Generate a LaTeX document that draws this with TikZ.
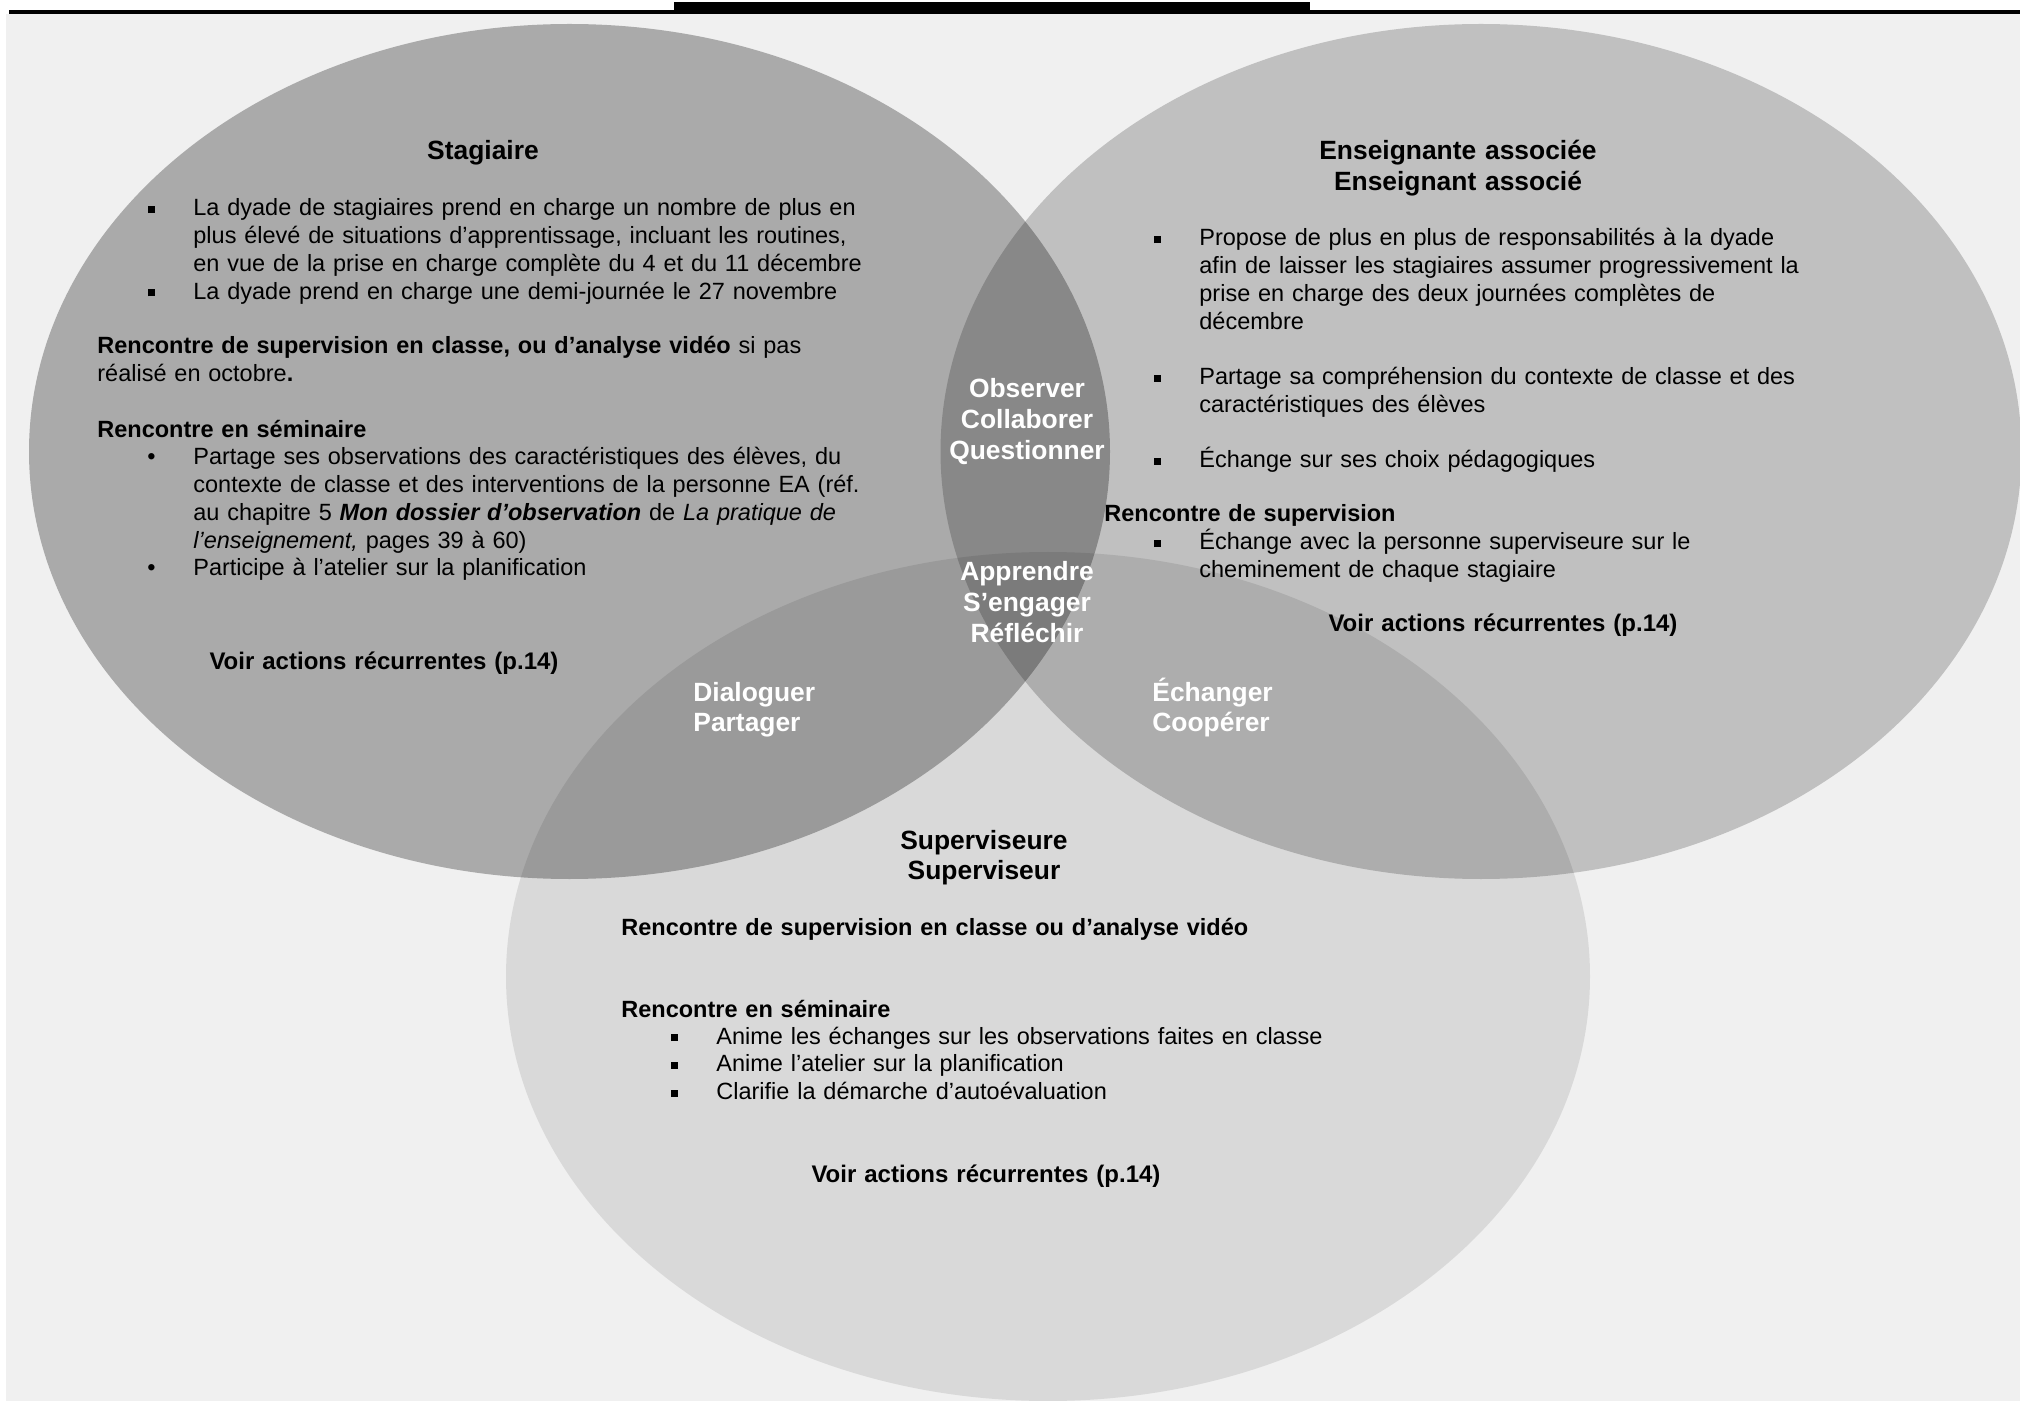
\documentclass[tikz,border=0pt]{standalone}
\usepackage{fontspec}
\setmainfont{Liberation Sans}
\usetikzlibrary{shapes}
\definecolor{fondcol}{gray}{0.941}
\definecolor{stagcol}{gray}{0.708}
\definecolor{eacol}{gray}{0.804}
\definecolor{supcol}{gray}{0.904}
\newcommand{\carre}{\leavevmode\llap{\rule[1.4pt]{3.5pt}{3.5pt}\hspace{19.25pt}}}
\newcommand{\rond}{\leavevmode\llap{\makebox[4pt]{•}\hspace{19pt}}}

\begin{document}
\begin{tikzpicture}[x=0.5pt,y=-0.5pt,
corps/.style={font=\fontsize{11.75}{13.85}\selectfont,inner sep=0pt,text width=360pt,align=left,anchor=base west},
titre/.style={font=\fontsize{13.2}{15.4}\selectfont\bfseries,inner sep=0pt,text width=300pt,align=center,anchor=base},
rappel/.style={font=\fontsize{12}{13.85}\selectfont\bfseries,inner sep=0pt,text width=300pt,align=center,anchor=base},
verbe/.style={font=\fontsize{13.2}{15.4}\selectfont\bfseries,text=white,inner sep=0pt,text width=120pt,align=center,anchor=base},
verbeg/.style={verbe,align=left,anchor=base west}]
\useasboundingbox (0,0) rectangle (2020,1401);
\fill[fondcol] (6,14) rectangle (2020,1401);
\fill[black] (674,2) rectangle (1310,14);
\draw[line width=2pt] (9,12) -- (2020,12);
\begin{scope}[blend mode=multiply]
\fill[stagcol] (569.5,451.5) ellipse [x radius=270.25pt, y radius=213.75pt];
\fill[eacol] (1481,451.5) ellipse [x radius=270.25pt, y radius=213.75pt];
\fill[supcol] (1048,976.5) ellipse [x radius=271pt, y radius=212.25pt];
\end{scope}
\node[titre] (0) at (483,160) {Stagiaire};
\node[corps] (1) at (193,216) {\carre La dyade de stagiaires prend en charge un nombre de plus en\\plus élevé de situations d’apprentissage, incluant les routines,\\en vue de la prise en charge complète du 4 et du 11 décembre\\\carre La dyade prend en charge une demi-journée le 27 novembre};
\node[corps] (2) at (97,354) {\textbf{Rencontre de supervision en classe, ou d’analyse vidéo} si pas\\réalisé en octobre\textbf{.}\\[13.85pt]\textbf{Rencontre en séminaire}};
\node[corps] (3) at (193,465) {\rond Partage ses observations des caractéristiques des élèves, du\\contexte de classe et des interventions de la personne EA (réf.\\au chapitre 5 \textbf{\textit{Mon dossier d’observation}} de \textit{La pratique de}\\\textit{l’enseignement,} pages 39 à 60)\\\rond Participe à l’atelier sur la planification};
\node[rappel] (4) at (384,669) {Voir actions récurrentes (p.14)};
\node[titre] (5) at (1458,160) {Enseignante associée\\Enseignant associé};
\node[corps] (6) at (1199,246) {\carre Propose de plus en plus de responsabilités à la dyade\\afin de laisser les stagiaires assumer progressivement la\\prise en charge des deux journées complètes de\\décembre\\[13.85pt]\carre Partage sa compréhension du contexte de classe et des\\caractéristiques des élèves\\[13.85pt]\carre Échange sur ses choix pédagogiques};
\node[corps] (7) at (1104,522) {\textbf{Rencontre de supervision}};
\node[corps] (8) at (1199,550) {\carre Échange avec la personne superviseure sur le\\cheminement de chaque stagiaire};
\node[rappel] (9) at (1503,632) {Voir actions récurrentes (p.14)};
\node[titre] (10) at (984,849) {Superviseure\\Superviseur};
\node[corps] (11) at (621,935) {\textbf{Rencontre de supervision en classe ou d’analyse vidéo}};
\node[corps] (12) at (621,1017) {\textbf{Rencontre en séminaire}};
\node[corps] (13) at (716,1044) {\carre Anime les échanges sur les observations faites en classe\\\carre Anime l’atelier sur la planification\\\carre Clarifie la démarche d’autoévaluation};
\node[rappel] (14) at (986,1182) {Voir actions récurrentes (p.14)};
\node[verbe] (15) at (1027,398) {Observer\\Collaborer\\Questionner};
\node[verbe] (16) at (1027,581) {Apprendre\\S’engager\\Réfléchir};
\node[verbeg] (17) at (693,701) {Dialoguer\\Partager};
\node[verbeg] (18) at (1152,701) {Échanger\\Coopérer};
\end{tikzpicture}
\end{document}
